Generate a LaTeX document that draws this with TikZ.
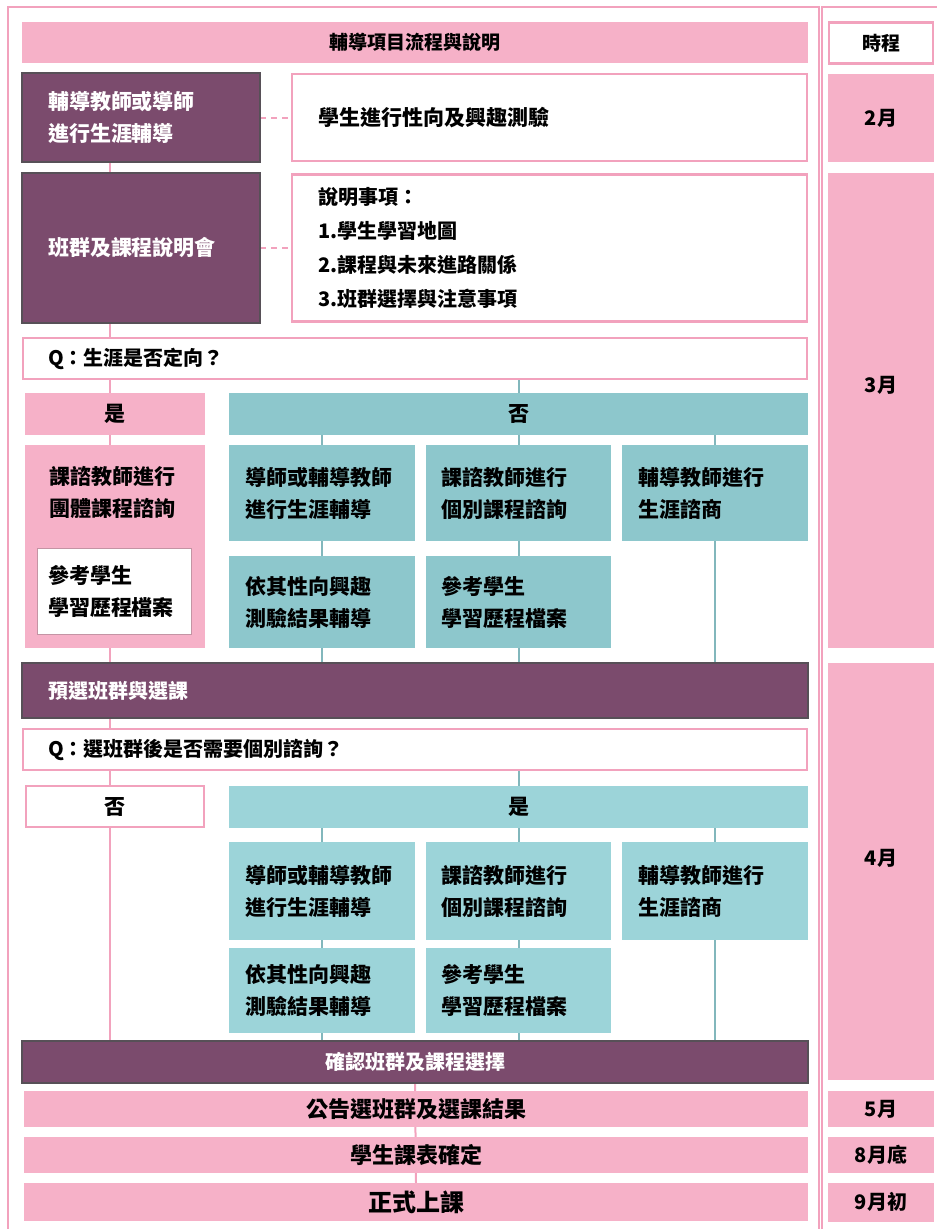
\documentclass[tikz,border=0pt]{standalone}
\usepackage{fontspec}
\setmainfont{Noto Sans CJK TC}[BoldFont={Noto Sans CJK TC Black}]
\usepackage{tikz}
\usetikzlibrary{backgrounds,calc,positioning}
\definecolor{lila}{HTML}{7B4B6D}
\definecolor{lilarand}{HTML}{575057}
\definecolor{rosa}{HTML}{F6B1C8}
\definecolor{rosarand}{HTML}{F2A2BD}
\definecolor{tuerkisA}{HTML}{8DC7CC}
\definecolor{tuerkisB}{HTML}{9CD4D9}

\begin{document}
\begin{tikzpicture}[x=1pt,y=-1pt,
  kasten/.style={inner sep=0pt,outer sep=0pt,font=\bfseries\fontsize{21}{32}\selectfont},
  lilakasten/.style={kasten,fill=lila,draw=lilarand,line width=1.5pt,text=white},
  rosakasten/.style={kasten,fill=rosa},
  weisskasten/.style={kasten,fill=white,draw=rosarand,line width=2.5pt},
  tuerkiskasten/.style={kasten,fill=#1},
  rosalinie/.style={draw=rosarand,line width=2pt},
  tuerkislinie/.style={draw=tuerkisA!92!black,line width=2pt}
]
\useasboundingbox (0,0) rectangle (937,1229);
%Kopfzeile
\node[rosakasten,minimum width=786pt,minimum height=41pt,font=\bfseries\fontsize{19}{23}\selectfont] (titel) at (415,42.5) {輔導項目流程與說明};
\node[weisskasten,minimum width=104pt,minimum height=41pt,font=\bfseries\fontsize{19}{23}\selectfont] (zeitkopf) at (881,43) {時程};
%Zeile 1 und 2
\node[lilakasten,minimum width=238pt,minimum height=89pt,text width=186pt,align=left] (beratung) at (141,117.5) {輔導教師或導師\\進行生涯輔導};
\node[weisskasten,minimum width=515pt,minimum height=87pt,text width=463pt,align=left] (test) at (549.5,117.5) {學生進行性向及興趣測驗};
\node[lilakasten,minimum width=238pt,minimum height=150pt,text width=186pt,align=left] (infoabend) at (141,248) {班群及課程說明會};
\node[weisskasten,minimum width=515pt,minimum height=147pt,text width=463pt,align=left,font=\bfseries\fontsize{20}{34}\selectfont] (punkte) at (549.5,248) {說明事項：\\1.學生學習地圖\\2.課程與未來進路關係\\3.班群選擇與注意事項};
%Frage 1
\node[weisskasten,minimum width=784pt,minimum height=41pt,text width=734pt,align=left,font=\bfseries\fontsize{20}{24}\selectfont] (frage1) at (415,358.5) {Q：生涯是否定向？};
\node[rosakasten,minimum width=180pt,minimum height=42pt] (ja1) at (115,414) {是};
\node[tuerkiskasten=tuerkisA,minimum width=579pt,minimum height=42pt] (nein1) at (518.5,414) {否};
\node[rosakasten,minimum width=180pt,minimum height=203pt] (gruppe) at (115,546.5) {};
\node[kasten,align=left] (gruppetext) at (112,492) {課諮教師進行\\團體課程諮詢};
\node[weisskasten,draw=rosarand!60!gray,line width=1.5pt,minimum width=154pt,minimum height=86pt,text width=133pt,align=left] (portfolio) at (114.5,591.5) {參考學生\\學習歷程檔案};
\node[lilakasten,minimum width=786pt,minimum height=55pt,text width=734pt,align=left,font=\bfseries\fontsize{20}{24}\selectfont] (vorwahl) at (415,690.5) {預選班群與選課};
%Frage 2
\node[weisskasten,minimum width=784pt,minimum height=41pt,text width=734pt,align=left,font=\bfseries\fontsize{20}{24}\selectfont] (frage2) at (415,749.5) {Q：選班群後是否需要個別諮詢？};
\node[weisskasten,minimum width=178pt,minimum height=41pt] (nein2) at (115,806.5) {否};
\node[tuerkiskasten=tuerkisB,minimum width=579pt,minimum height=42pt] (ja2) at (518.5,806.5) {是};
%Abschluss
\node[lilakasten,minimum width=786pt,minimum height=42pt,font=\bfseries\fontsize{20}{24}\selectfont] (bestaetigung) at (415,1062) {確認班群及課程選擇};
\node[rosakasten,minimum width=784pt,minimum height=36pt,font=\bfseries\fontsize{22}{26}\selectfont] (bekannt) at (416,1109) {公告選班群及選課結果};
\node[rosakasten,minimum width=784pt,minimum height=36pt,font=\bfseries\fontsize{22}{26}\selectfont] (stundenplan) at (416,1155) {學生課表確定};
\node[rosakasten,minimum width=784pt,minimum height=38pt,font=\bfseries\fontsize{24}{28}\selectfont] (unterricht) at (416,1202) {正式上課};
%Beratungskästen, oben für "否", unten für "是"
\foreach \s/\frage/\kopf/\ziel/\farbe/\ya/\ha/\yb/\hb in {o/frage1/nein1/vorwahl/tuerkisA/493/96/602/92,u/frage2/ja2/bestaetigung/tuerkisB/891/98/990.5/85}{
  \node[tuerkiskasten=\farbe,minimum width=186pt,minimum height=\ha,text width=154pt,align=left] (a\s) at (322,\ya) {導師或輔導教師\\進行生涯輔導};
  \node[tuerkiskasten=\farbe,minimum width=185pt,minimum height=\ha,text width=154pt,align=left] (b\s) at (518.5,\ya) {課諮教師進行\\個別課程諮詢};
  \node[tuerkiskasten=\farbe,minimum width=186pt,minimum height=\ha,text width=154pt,align=left] (c\s) at (715,\ya) {輔導教師進行\\生涯諮商};
  \node[tuerkiskasten=\farbe,minimum width=186pt,minimum height=\hb,text width=154pt,align=left] (d\s) at (322,\yb) {依其性向興趣\\測驗結果輔導};
  \node[tuerkiskasten=\farbe,minimum width=185pt,minimum height=\hb,text width=154pt,align=left] (e\s) at (518.5,\yb) {參考學生\\學習歷程檔案};
  \begin{scope}[on background layer]
    \draw[tuerkislinie] (\frage.south -| \kopf) -- (\ziel.north -| \kopf);
    \draw[tuerkislinie] (\kopf.south -| a\s) -- (\ziel.north -| a\s);
    \draw[tuerkislinie] (\kopf.south -| c\s) -- (\ziel.north -| c\s);
  \end{scope}
}
%Zeitleiste rechts
\foreach \n/\y/\h/\ty/\t in {feb/118/88/118/2月,maerz/410.5/475/385/3月,april/871.5/417/858/4月,mai/1109/36/1109/5月,aug/1155/36/1155/8月底,sep/1202.5/39/1202/9月初}{
  \node[rosakasten,minimum width=106pt,minimum height=\h] (\n) at (881,\y) {};
  \node[kasten,font=\bfseries\fontsize{20}{24}\selectfont] (\n-t) at (881,\ty) {\t};
}
%Linien hinter den Kästen
\begin{scope}[on background layer]
  \draw[rosarand,line width=1.5pt] (8,1240) -- (8,7) -- (819,7) -- (819,1240);
  \draw[rosarand,line width=1.5pt] (822,1240) -- (822,7) -- (945,7);
  \coordinate (lachse) at (110,0);
  \draw[rosalinie] (beratung.south -| lachse) -- (bestaetigung.north -| lachse);
  \draw[rosalinie,dashed,dash pattern=on 6pt off 5pt] (beratung.east) -- (test.west);
  \draw[rosalinie,dashed,dash pattern=on 6pt off 5pt] (infoabend.east) -- (punkte.west);
  \draw[rosalinie] (bestaetigung.south) -- (unterricht.north);
\end{scope}
\end{tikzpicture}
\end{document}
